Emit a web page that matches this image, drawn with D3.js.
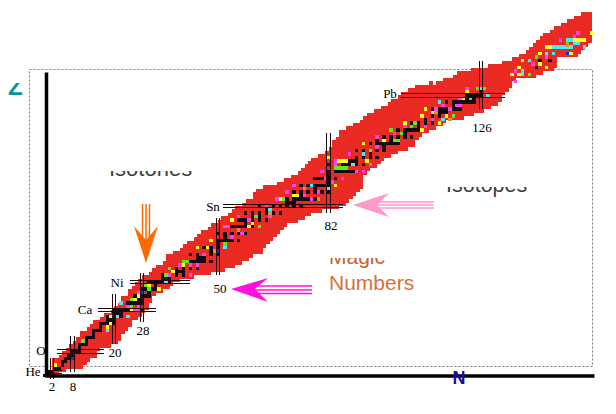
<!DOCTYPE html>
<html><head><meta charset="utf-8">
<script src="https://cdn.jsdelivr.net/npm/d3@7"></script>
<style>html,body{margin:0;padding:0;background:#fff;overflow:hidden}svg{display:block}</style>
</head><body><div id="c"></div>
<script>
// Nuclide band: top and bottom proton number for each neutron number from N=2 up
const bandStartN=2;
const bandTop=[6,6,7,8,9,10,11,12,14,14,
15,16,17,17,18,19,19,20,21,22,
24,24,26,27,28,29,30,30,31,32,
33,33,34,36,36,37,37,38,39,40,
40,41,42,43,43,44,45,45,46,47,
47,48,49,50,50,51,52,52,54,55,
55,56,56,56,56,57,57,58,58,59,
59,60,61,62,63,64,64,65,65,66,
67,69,70,72,72,73,73,74,74,75,
76,77,77,78,78,79,79,80,81,81,
82,83,83,84,84,85,85,85,85,86,
85,86,86,87,87,87,88,89,89,89,
89,90,90,90,90,90,91,91,91,91,
92,92,92,93,93,94,94,95,96,97,
98,99,100,100,101,102,102,103,103,104,
104,105,105,106,106,106,106];
const bandBottom=[1,1,2,2,3,3,3,3,3,4,
5,6,6,8,9,9,9,10,10,11,
13,14,15,17,17,18,19,20,22,24,
25,25,26,26,27,28,28,29,29,29,
29,30,30,30,30,30,31,31,31,31,
32,32,32,33,33,34,34,35,36,36,
36,38,39,40,41,42,43,44,45,45,
45,46,46,47,47,48,48,48,49,49,
49,49,49,50,50,51,52,53,54,55,
59,60,61,61,62,63,64,64,65,65,
66,66,66,67,67,69,70,71,71,72,
72,73,73,74,75,75,75,75,75,76,
76,76,77,77,77,78,78,79,79,80,
82,83,84,86,87,87,87,87,87,87,
88,88,89,89,89,90,93,93,93,93,
93,93,94,95,96,97,98];
// Stable isotopes: proton number with first and last neutron number
const stableZ=[1,2,3,4,5,6,7,8,9,10,11,12,13,14,15,16,17,18,19,20,21,22,23,24,25,26,27,28,29,30,31,32,33,34,35,36,37,38,39,40,41,42,44,45,46,47,48,49,50,51,52,53,54,55,56,57,58,59,60,62,63,64,65,66,67,68,69,70,71,72,73,74,75,76,77,78,79,80,81,82,83];
const stableFrom=[0,1,3,5,5,6,7,8,10,10,12,12,14,14,16,16,18,18,20,20,24,24,27,26,30,28,32,30,34,34,38,38,42,40,44,42,48,46,50,50,52,50,52,58,56,60,58,64,62,70,68,74,70,78,74,82,78,82,82,82,88,90,94,90,98,94,100,98,104,102,108,106,110,112,114,114,118,116,122,122,126];
const stableTo=[1,2,4,5,6,7,8,10,10,12,12,14,14,16,16,20,20,22,22,28,24,28,28,30,30,32,32,36,36,40,40,44,42,48,46,50,48,50,50,56,52,58,60,58,64,62,68,64,74,72,78,74,82,78,82,82,84,82,90,92,90,96,94,98,98,102,100,106,104,108,108,112,110,116,116,120,118,124,124,126,126];
// Rows that read as solid bars in the heavier part: [Z, first N, last N]
const barRows=[[34,42,46],[40,50,54],[44,53,60],[46,57,60],[52,72,76],[56,78,82],[60,84,90],[62,86,90],[68,96,102],[72,104,108],[78,114,120],[80,118,124],[82,122,126]];
// Isolated dark cells off the main line, [N,Z]
const darkCells=[[58,48],[60,48],[64,46],[68,48],[74,56],[76,56],[72,54],[70,54],[81,58],[79,58],[88,60],[90,60],[94,68],[90,66],[96,69],[98,70],[109,76],[112,78],[116,80],[118,78],[143,92],[146,92],[142,90]];
// Long-lived nuclides by colour, [N,Z]
const yellowCells=[[3,4],[18,15],[19,18],[19,16],[26,23],[27,24],[25,20],[30,27],[33,26],[37,31],[40,33],[44,38],[47,38],[48,40],[54,46],[59,44],[60,45],[68,52],[72,53],[73,53],[84,56],[82,64],[85,63],[86,63],[87,63],[92,68],[93,63],[98,69],[104,74],[109,72],[109,76],[110,78],[112,77],[114,74],[116,76],[121,81],[122,83],[135,88],[137,88],[137,90],[138,92],[143,94],[143,91],[145,90],[145,96],[146,96],[152,94],[153,98],[154,98],[155,98],[156,98],[158,100]];
const magentaCells=[[24,21],[26,20],[27,20],[27,21],[27,25],[28,28],[36,30],[39,33],[42,30],[44,33],[42,33],[52,44],[53,44],[54,41],[57,42],[59,46],[65,47],[67,52],[72,56],[79,54],[80,60],[83,57],[86,58],[84,62],[84,63],[88,65],[90,60],[92,60],[96,67],[96,70],[104,73],[110,73],[113,78],[115,79],[120,81],[119,79],[120,79],[122,84],[136,89],[136,86],[141,91],[145,93],[149,98],[153,99],[154,100],[46,36],[56,47],[64,50],[70,54],[75,53],[77,52],[81,58],[94,62],[101,71],[112,75],[117,78]];
const cyanCells=[[18,14],[21,18],[24,18],[22,22],[35,28],[52,38],[65,49],[77,56],[82,55],[89,62],[92,65],[114,80],[115,75],[126,84],[128,82],[138,89],[138,88],[140,92],[145,94],[147,96],[148,96],[149,96],[150,96],[151,96],[152,96],[147,94],[151,98],[152,98],[153,97],[154,97],[156,96]];
const greenCells=[[11,11],[25,21],[25,23],[29,27],[30,26],[35,30],[36,32],[41,34],[40,34],[52,39],[62,44],[61,47],[69,52],[84,61],[85,61],[86,61],[87,61],[94,66],[100,72],[103,71],[101,69],[102,69],[106,73],[107,74],[118,76],[123,81],[125,84],[127,84],[140,88],[142,93],[151,97]];
const blueCells=[[8,6],[28,25],[50,37],[151,94]];
const orangeCells=[[49,37],[65,48],[79,52],[113,77],[151,96.5],[56,43],[75,55],[117,75]];
// Magic numbers with the extents of their double lines, in N / Z
const magicZ=[2,8,20,28,50,82];
const magicZfrom=[0,3.5,15.3,24.5,51.5,103];
const magicZto=[5,17,32,42,86,133];
const magicN=[2,8,20,28,50,82,126];
const magicNfrom=[0,2,10,16.5,30,48,78];
const magicNto=[6,12.5,24.5,30.5,46.5,71,92];
const elementLabels=["He","O","Ca","Ni","Sn","Pb"];
const magicLabels=["2","8","20","28","50","82","126"];

const W=616,H=414;
const x=d3.scaleLinear().domain([0,100]).range([45,391]);
const y=d3.scaleLinear().domain([0,100]).range([379,33]);
const cw=3.46;
const svg=d3.select("#c").append("svg").attr("width",W).attr("height",H);
const defs=svg.append("defs");
const pat=defs.append("pattern").attr("id","dith").attr("width",2).attr("height",2).attr("patternUnits","userSpaceOnUse");
pat.append("rect").attr("width",2).attr("height",2).attr("fill","#ff2214");
pat.append("rect").attr("width",1).attr("height",1).attr("fill","#ee2c26");

// band
const area=d3.area().curve(d3.curveStepAfter).x((d,i)=>x(bandStartN+i)).y0(d=>y(d[1])).y1(d=>y(d[0]));

// big labels; the reference shows only the lower strip of several words, masked from above
const sans="'Liberation Sans',Arial,sans-serif";
function big(t,px,py,size,color,weight,maskTop){
  svg.append("text").text(t).attr("x",px).attr("y",py).attr("font-family",sans).attr("font-size",size).attr("font-weight",weight).attr("fill",color);
  if(maskTop!==null) svg.append("rect").attr("x",px-3).attr("y",py-size).attr("width",Math.max(t.length*size*0.62,size+4)).attr("height",maskTop-(py-size)).attr("fill","#fff");
}
big("Z",8,95,24,"#009a9a","bold",83);
big("Isotones",109,175.5,22,"#443f3a","normal",171);
big("Isotopes",446,191.5,21.5,"#443f3a","normal",187);
big("Magic",329,264,21,"#c8622a","normal",258);
big("Numbers",329,290,21,"#d8703a","normal",null);

// dotted frame, drawn after the masks so none of them cuts it
svg.append("rect").attr("x",29.5).attr("y",69.5).attr("width",563).attr("height",297)
  .attr("fill","none").attr("stroke","#777").attr("stroke-dasharray","2 2");

svg.append("path").attr("d",area(d3.zip(bandTop,bandBottom))).attr("fill","url(#dith)").attr("shape-rendering","crispEdges");

// cells
function cells(data,color){
  svg.append("g").selectAll("rect").data(data).join("rect")
   .attr("x",d=>x(d[0])-cw/2).attr("y",d=>y(d[1])-cw/2).attr("width",cw).attr("height",cw)
   .attr("fill",color).attr("shape-rendering","crispEdges");
}
const stable=[];
stableZ.forEach((z,i)=>{
  const step=(z>=30&&z%2===0)?2:1;
  d3.range(stableFrom[i],stableTo[i]+1,step).forEach(n=>stable.push([n,z]));
});
barRows.forEach(r=>d3.range(r[1],r[2]+1).forEach(n=>stable.push([n,r[0]])));
cells(stable,"#140814");
cells(darkCells,"#140814");
cells(magentaCells,"#ff40f0");
cells(greenCells,"#50f020");
cells(cyanCells,"#40f0f8");
cells(yellowCells,"#ffff20");
cells(blueCells,"#1030e0");
cells(orangeCells,"#e89020");

// magic lines
const lg=svg.append("g").attr("stroke","#200808").attr("stroke-width",1).attr("shape-rendering","crispEdges");
magicZ.forEach((z,i)=>{[-0.5,0.5].forEach(o=>{
  lg.append("line").attr("x1",x(magicZfrom[i])).attr("x2",x(magicZto[i])).attr("y1",y(z+o)).attr("y2",y(z+o));});});
magicN.forEach((n,i)=>{[-0.5,0.5].forEach(o=>{
  lg.append("line").attr("y1",y(magicNfrom[i])).attr("y2",y(magicNto[i])).attr("x1",x(n+o)).attr("x2",x(n+o));});});

// axes
svg.append("g").attr("transform","translate(46,0)").call(d3.axisLeft(d3.scaleLinear().domain([0,1]).range([377,72])).tickValues([]).tickSize(0))
  .select("path").attr("stroke","#000").attr("stroke-width",3.5);
svg.append("g").attr("transform","translate(0,375.5)").call(d3.axisBottom(d3.scaleLinear().domain([0,1]).range([46,594])).tickValues([]).tickSize(0))
  .select("path").attr("stroke","#000").attr("stroke-width",3.5);

big("N",452.5,384,18,"#1a0aa8","bold",null);

// element labels
const serif="'Liberation Serif',serif";
const elemPos=[[33,376],[41,355],[85,314],[117,287],[213,211],[390,98]];
elementLabels.forEach((t,i)=>svg.append("text").text(t).attr("x",elemPos[i][0]).attr("y",elemPos[i][1])
  .attr("text-anchor","middle").attr("font-family",serif).attr("font-size",13).attr("fill","#000"));
const numPos=[[52,391],[73,391],[115,357],[143,335],[220,293],[331,230],[482,132]];
magicLabels.forEach((t,i)=>svg.append("text").text(t).attr("x",numPos[i][0]).attr("y",numPos[i][1])
  .attr("text-anchor","middle").attr("font-family",serif).attr("font-size",13).attr("fill","#000"));

// arrows
function arrow(pts,lines,color,w){
  svg.append("polygon").attr("points",pts.map(p=>p.join(",")).join(" ")).attr("fill",color);
  lines.forEach(l=>svg.append("line").attr("x1",l[0]).attr("y1",l[1]).attr("x2",l[2]).attr("y2",l[3]).attr("stroke",color).attr("stroke-width",w));
}
arrow([[134,226],[146,240],[158,226],[146,263]],[[142.5,204,142.5,245],[146,204,146,245],[149.5,204,149.5,245]],"#ff6a00",1.5);
arrow([[353,205],[389,193],[377,205],[389,217]],[[377,202,434,202],[377,205,434,205],[377,208,434,208]],"#ff99cc",1.5);
arrow([[231,289],[268,278],[255,289],[268,302]],[[255,286,312,286],[255,290,312,290],[255,293.5,312,293.5]],"#ff10e0",1.5);
</script></body></html>
